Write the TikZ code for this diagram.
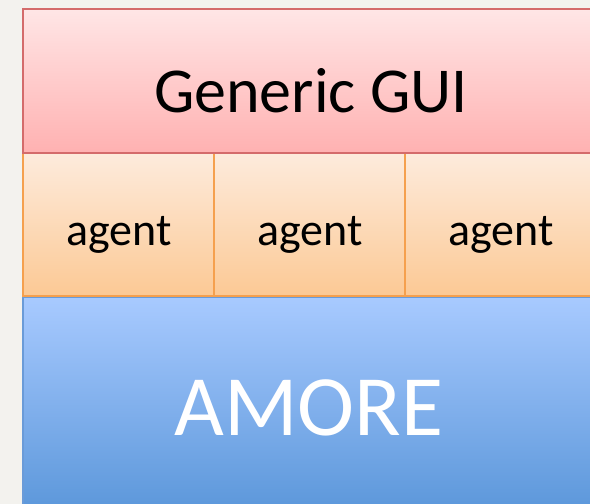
\documentclass[tikz,border=0pt]{standalone}
\usepackage{fontspec}
\setmainfont{Carlito}
\usetikzlibrary{shadows}
\definecolor{bgc}{HTML}{F3F2EE}
\definecolor{guitop}{HTML}{FFE6E6}
\definecolor{guibot}{HTML}{FFB1B1}
\definecolor{guiline}{HTML}{D46B6B}
\definecolor{agtop}{HTML}{FDEBDC}
\definecolor{agbot}{HTML}{FCC995}
\definecolor{agline}{HTML}{F5A04E}
\definecolor{amtop}{HTML}{A8CAFF}
\definecolor{ambot}{HTML}{5794D8}
\definecolor{amline}{HTML}{6A9BD8}
\tikzset{
  layer/.style={line width=1.2pt, drop shadow={shadow xshift=1pt, shadow yshift=-1.5pt, opacity=0.35}},
  guibox/.style={layer, draw=guiline, top color=guitop, bottom color=guibot},
  agbox/.style={layer, draw=agline, top color=agtop, bottom color=agbot},
  ambox/.style={layer, draw=amline, top color=amtop, bottom color=ambot},
  lbl/.style={text=black, inner sep=0pt},
}
\begin{document}
\begin{tikzpicture}[x=1pt,y=1pt]
\useasboundingbox (0,0) rectangle (590,504);
\clip (0,0) rectangle (590,504);
\fill[bgc] (0,0) rectangle (590,504);
% AMORE
\path[ambox] (23,-20) rectangle (620,207);
% agents
\path[agbox] (23,208) rectangle (214,351);
\path[agbox] (214,208) rectangle (405,351);
\path[agbox] (405,208) rectangle (620,351);
% GUI
\path[guibox] (23,351) rectangle (620,495);
\node[lbl, font=\fontsize{64}{70}\selectfont] (gui) at (311,413) {Generic GUI};
\node[lbl, font=\fontsize{46}{52}\selectfont] (a1) at (119,269) {agent};
\node[lbl, font=\fontsize{46}{52}\selectfont] (a2) at (310,269) {agent};
\node[lbl, font=\fontsize{46}{52}\selectfont] (a3) at (501,269) {agent};
\node[lbl, text=white, font=\fontsize{86}{95}\selectfont] (am) at (309,96) {AMORE};
\end{tikzpicture}
\end{document}
